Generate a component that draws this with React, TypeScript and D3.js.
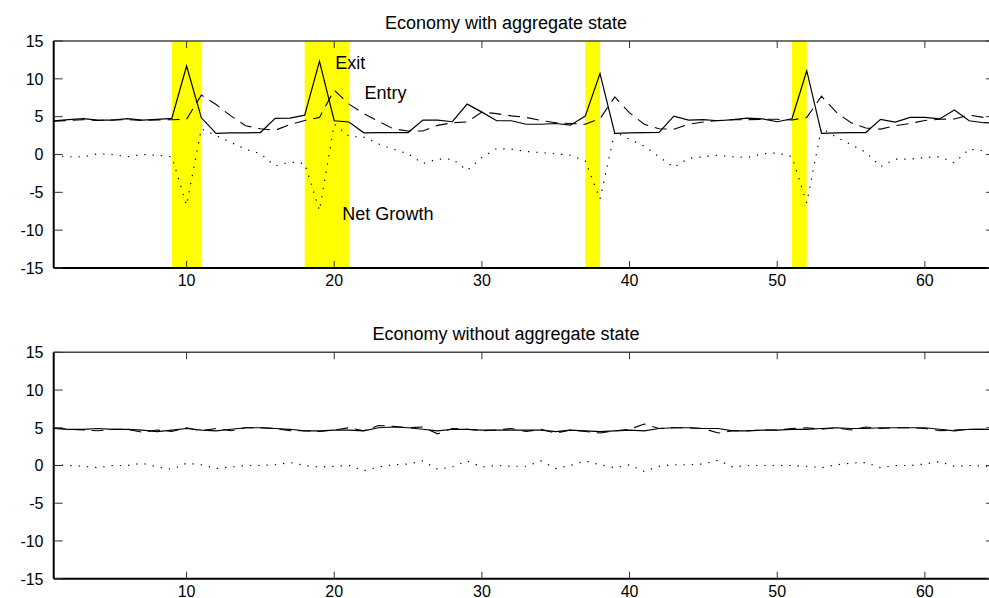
import React from "react";
import * as d3 from "d3";

// ---------- data ----------
const periods: number[] = Array.from({ length: 65 }, (_, i) => i + 1);

const topExit = [4.45, 4.6, 4.75, 4.55, 4.55, 4.75, 4.55, 4.65, 4.77, 11.7, 4.85, 2.8, 2.85, 2.85, 2.9, 4.77, 4.8, 5.2, 12.3, 4.46, 4.3, 2.87, 2.88, 2.9, 2.9, 4.55, 4.55, 4.33, 6.66, 5.6, 4.46, 4.46, 4.0, 4.0, 4.1, 3.88, 5.07, 10.7, 2.79, 2.85, 2.9, 2.92, 5.07, 4.55, 4.6, 4.46, 4.6, 4.8, 4.7, 4.33, 4.72, 11.07, 2.79, 2.85, 2.88, 2.9, 4.64, 4.28, 4.9, 4.9, 4.7, 5.87, 4.46, 4.2, 4.15];
const topEntry = [4.4, 4.5, 4.6, 4.5, 4.55, 4.6, 4.5, 4.55, 4.6, 4.65, 7.85, 6.6, 5.1, 3.8, 3.4, 3.2, 3.95, 4.5, 4.9, 8.5, 6.66, 5.4, 4.4, 3.4, 3.1, 3.1, 3.85, 4.2, 4.3, 5.6, 5.4, 5.1, 4.9, 4.5, 4.2, 4.1, 4.0, 4.75, 7.6, 5.5, 4.0, 3.4, 3.35, 4.0, 4.3, 4.5, 4.6, 4.6, 4.65, 4.65, 4.55, 4.9, 7.7, 5.6, 4.2, 3.5, 3.35, 3.8, 4.1, 4.5, 4.65, 4.7, 5.2, 4.9, 4.8];
const topNet = [-0.15, -0.3, -0.3, 0.1, 0.0, -0.3, 0.0, -0.1, -0.3, -6.7, 3.4, 2.5, 1.6, 0.7, 0.1, -1.5, -1.0, -1.2, -7.4, 4.0, 2.4, 2.3, 1.4, 0.7, 0.1, -1.2, -0.6, -0.6, -2.1, -0.4, 0.8, 0.7, 0.4, 0.25, 0.1, -0.1, -0.85, -5.9, 3.0, 2.0, 1.1, -0.3, -1.7, -0.5, -0.3, -0.1, -0.3, -0.4, 0.1, 0.2, -0.3, -6.4, 3.5, 2.3, 1.3, 0.3, -1.6, -0.6, -0.6, -0.4, -0.3, -1.1, 0.7, 0.5, 0.6];

const botExit = [4.9, 4.8, 4.8, 4.9, 4.8, 4.8, 4.7, 4.5, 4.7, 4.9, 4.7, 4.6, 4.8, 5.0, 5.0, 4.9, 4.8, 4.6, 4.6, 4.7, 4.7, 4.6, 5.0, 5.1, 5.0, 4.8, 4.6, 4.8, 4.8, 4.7, 4.7, 4.7, 4.7, 4.7, 4.5, 4.7, 4.6, 4.5, 4.6, 4.7, 4.6, 4.9, 5.0, 5.0, 4.9, 4.9, 4.6, 4.6, 4.7, 4.7, 4.8, 4.8, 4.9, 5.0, 4.9, 4.9, 5.0, 5.0, 5.0, 5.0, 4.8, 4.6, 4.8, 4.8, 4.8];
const botEntry = [5.0, 4.8, 4.7, 4.6, 4.8, 4.8, 4.4, 4.7, 4.5, 5.0, 4.6, 4.9, 4.6, 5.0, 5.0, 4.9, 4.6, 4.6, 4.5, 4.7, 5.0, 4.6, 5.3, 5.2, 5.0, 5.1, 4.2, 4.9, 4.8, 4.6, 4.7, 4.9, 4.5, 4.8, 4.3, 4.7, 4.5, 4.3, 4.6, 4.8, 5.5, 4.9, 5.0, 5.0, 4.9, 4.3, 4.6, 4.6, 4.7, 4.7, 4.9, 5.0, 4.8, 5.0, 4.7, 5.1, 4.9, 5.0, 5.0, 4.9, 4.6, 4.7, 4.8, 4.8, 4.8];
const botNet = [0.1, 0.0, -0.1, -0.3, 0.0, 0.0, 0.3, -0.2, -0.5, 0.3, 0.1, -0.4, -0.2, 0.0, 0.0, 0.1, 0.4, 0.0, -0.2, -0.1, 0.0, -0.7, -0.2, 0.1, 0.2, 0.6, -0.5, -0.2, 0.6, -0.2, 0.0, -0.1, -0.1, 0.6, -0.4, 0.0, 0.6, 0.1, -0.3, 0.1, -0.8, -0.1, 0.1, 0.1, 0.2, 0.7, -0.2, 0.0, 0.0, 0.0, 0.0, -0.1, -0.3, 0.1, 0.3, 0.4, -0.3, 0.0, 0.0, 0.2, 0.5, -0.1, 0.0, -0.1, 0.0];

const recessionStart = [9, 18, 37, 51];
const recessionEnd = [11, 21, 38, 52];

const xTicks = [10, 20, 30, 40, 50, 60];
const yTicks = [-15, -10, -5, 0, 5, 10, 15];

const titles = ["Economy with aggregate state", "Economy without aggregate state"];
const annotations = [
  { text: "Exit", x: 20.06, y: 11.3 },
  { text: "Entry", x: 22.05, y: 7.4 },
  { text: "Net Growth", x: 20.55, y: -8.65 },
];

// ---------- layout ----------
const W = 989;
const H = 598;
const LEFT = 53.7;
const RIGHT = 995;
const FONT = "Liberation Sans, Arial, Helvetica, sans-serif";

const x = d3.scaleLinear().domain([1, 64.75]).range([LEFT, RIGHT]);

type PanelProps = {
  top: number;
  bottom: number;
  title: string;
  exit: number[];
  entry: number[];
  net: number[];
  bands: boolean;
  id: string;
  labels: boolean;
};

function Panel({ top, bottom, title, exit, entry, net, bands, id, labels }: PanelProps) {
  const y = d3.scaleLinear().domain([-15, 15]).range([bottom, top]);
  const mk = (vals: number[]) =>
    d3
      .line<number>()
      .x((_, i) => x(periods[i]))
      .y((v) => y(v))(vals) || "";
  const cx = 506;
  return (
    <g>
      <defs>
        <clipPath id={id}>
          <rect x={LEFT} y={top} width={RIGHT - LEFT} height={bottom - top} />
        </clipPath>
      </defs>
      <text x={cx} y={top - 12.3} textAnchor="middle" fontFamily={FONT} fontSize={18} fill="#000">
        {title}
      </text>
      <g clipPath={`url(#${id})`}>
        {bands &&
          recessionStart.map((s, i) => (
            <rect key={i} x={x(s)} y={top} width={x(recessionEnd[i]) - x(s)} height={bottom - top} fill="#ffff00" />
          ))}
        <path d={mk(entry)} fill="none" stroke="#000" strokeWidth={1.1} strokeDasharray="12,7" />
        <path d={mk(net)} fill="none" stroke="#000" strokeWidth={1.2} strokeDasharray="1.3,7" />
        <path d={mk(exit)} fill="none" stroke="#000" strokeWidth={1.2} />
      </g>
      {/* frame */}
      <line x1={LEFT} x2={RIGHT} y1={top} y2={top} stroke="#444" strokeWidth={1.5} />
      <line x1={RIGHT} x2={RIGHT} y1={top} y2={bottom} stroke="#444" strokeWidth={1.5} />
      <line x1={LEFT} x2={RIGHT} y1={bottom} y2={bottom} stroke="#000" strokeWidth={2} />
      <line x1={LEFT} x2={LEFT} y1={top} y2={bottom} stroke="#000" strokeWidth={2} />
      {/* x ticks */}
      {xTicks.map((t) => (
        <g key={t}>
          <line x1={x(t)} x2={x(t)} y1={bottom} y2={bottom - 7} stroke="#333" strokeWidth={1} />
          <line x1={x(t)} x2={x(t)} y1={top} y2={top + 7} stroke="#333" strokeWidth={1} />
          <text x={x(t)} y={bottom + 18} textAnchor="middle" fontFamily={FONT} fontSize={16} fill="#000">
            {t}
          </text>
        </g>
      ))}
      {/* y ticks */}
      {yTicks.map((t) => (
        <g key={t}>
          <line x1={LEFT} x2={LEFT + 9} y1={y(t)} y2={y(t)} stroke="#333" strokeWidth={1} />
          <line x1={RIGHT} x2={RIGHT - 9} y1={y(t)} y2={y(t)} stroke="#333" strokeWidth={1} />
          <text x={43.5} y={y(t) + 5.8} textAnchor="end" fontFamily={FONT} fontSize={16} fill="#000">
            {t}
          </text>
        </g>
      ))}
      {labels &&
        annotations.map((a) => (
          <text key={a.text} x={x(a.x)} y={y(a.y)} fontFamily={FONT} fontSize={18} fill="#000">
            {a.text}
          </text>
        ))}
    </g>
  );
}

export default function App() {
  return (
    <svg
      width={W}
      height={H}
      style={{ position: "absolute", left: 0, top: 0, background: "#fff" }}
    >
      <rect x={0} y={0} width={W} height={H} fill="#fff" />
      <Panel top={41} bottom={268} title={titles[0]} exit={topExit} entry={topEntry} net={topNet} bands id="clipTop" labels />
      <Panel top={352.3} bottom={578.7} title={titles[1]} exit={botExit} entry={botEntry} net={botNet} bands={false} id="clipBot" labels={false} />
    </svg>
  );
}
